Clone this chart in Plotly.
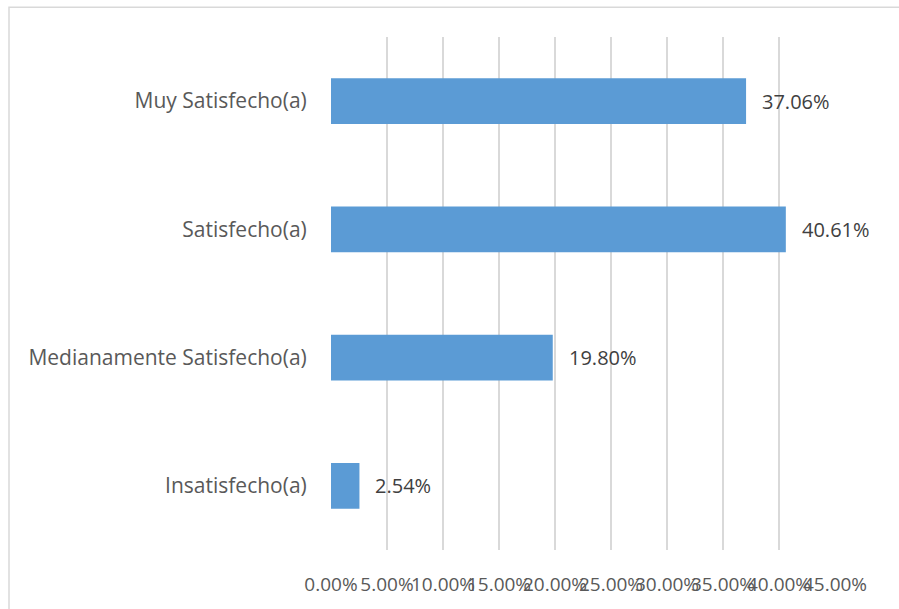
import plotly.graph_objects as go

categories = ["Muy Satisfecho(a)", "Satisfecho(a)", "Medianamente Satisfecho(a)", "Insatisfecho(a)"]
values = [0.3706, 0.4061, 0.1980, 0.0254]
tick_vals = [0.00, 0.05, 0.10, 0.15, 0.20, 0.25, 0.30, 0.35, 0.40, 0.45]
tick_text = ["0.00%", "5.00%", "10.00%", "15.00%", "20.00%", "25.00%", "30.00%", "35.00%", "40.00%", "45.00%"]

FONT = "Open Sans"
W, H = 899, 609
ML, MR, MT, MB = 331, 64, 37, 55
pw, ph = W - ML - MR, H - MT - MB

fig = go.Figure(go.Bar(
    x=values, y=categories, orientation="h",
    marker=dict(color="#5B9BD5", line=dict(width=0)),
    width=0.356, hoverinfo="skip",
))

# value labels to the right of each bar
for c, v in zip(categories, values):
    fig.add_annotation(x=v, y=c, text=f"{v*100:.2f}%", showarrow=False,
                       xanchor="left", xshift=14,
                       font=dict(family=FONT, size=20, color="#404040"))

# chart border
fig.add_shape(type="rect", xref="paper", yref="paper",
              x0=(9 - ML) / pw, x1=(905 - ML) / pw,
              y0=(ph + MT - 615) / ph, y1=(ph + MT - 7) / ph,
              line=dict(color="#d9d9d9", width=1.5), fillcolor="rgba(0,0,0,0)", layer="below")

fig.update_layout(
    width=W, height=H,
    margin=dict(l=ML, r=MR, t=MT, b=MB),
    paper_bgcolor="white", plot_bgcolor="white",
    showlegend=False,
    xaxis=dict(range=[0, 0.45], tickvals=tick_vals, ticktext=tick_text, tickangle=0,
               showgrid=True, gridcolor="#d9d9d9", gridwidth=1.5, zeroline=False,
               showline=False, ticks="outside", ticklen=17, tickcolor="rgba(0,0,0,0)",
               tickfont=dict(family=FONT, size=19, color="#595959"), fixedrange=True),
    yaxis=dict(categoryorder="array", categoryarray=categories[::-1],
               range=[-0.5, 3.5], showgrid=False, zeroline=False, showline=False,
               ticks="outside", ticklen=19, tickcolor="rgba(0,0,0,0)",
               tickfont=dict(family=FONT, size=21, color="#595959"), fixedrange=True),
)

fig.write_html("out.html")
